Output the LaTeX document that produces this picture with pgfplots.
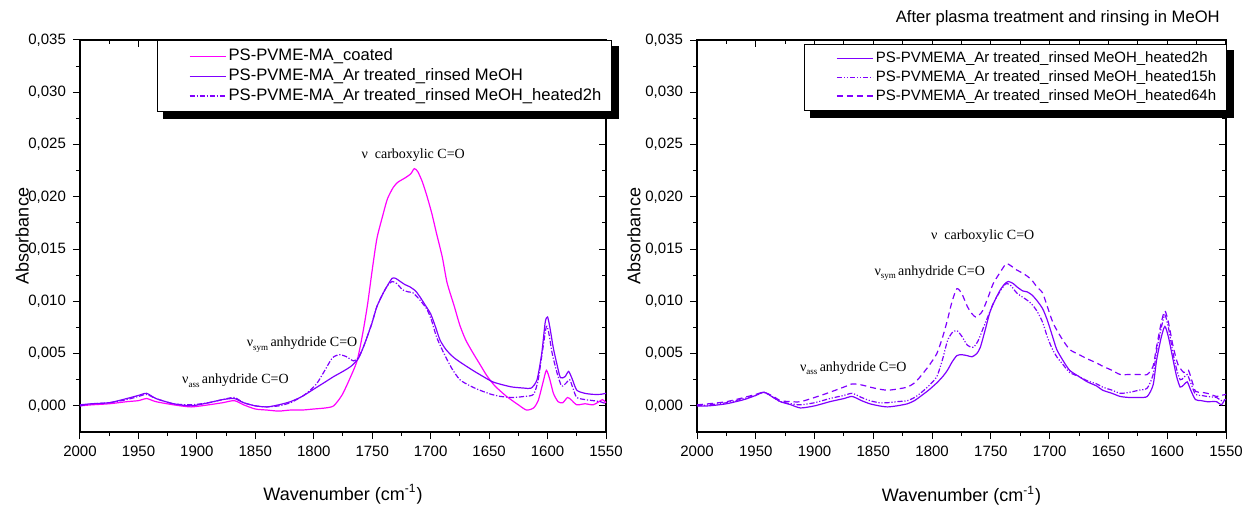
\documentclass[border=0pt]{standalone}
\usepackage{fontspec}
\setmainfont{Liberation Sans}
\newfontfamily\serif{Liberation Serif}
\usepackage{pgfplots}
\pgfplotsset{compat=1.18}
\definecolor{mag}{RGB}{255,0,255}
\definecolor{vio}{RGB}{128,0,255}

\pgfplotstableread{
x y
2000 0.0000
1990 0.0001
1975 0.0002
1960 0.0004
1950 0.0005
1943 0.0007
1935 0.0004
1920 0.0001
1905 -0.0001
1890 0.0001
1878 0.0003
1868 0.0005
1860 0.0001
1850 -0.0003
1840 -0.0004
1830 -0.0005
1820 -0.0004
1810 -0.0004
1800 -0.0003
1790 -0.0002
1783 0.0000
1776 0.0010
1770 0.0024
1763 0.0043
1758 0.0070
1754 0.0097
1750 0.0130
1746 0.0160
1741 0.0182
1737 0.0198
1732 0.0209
1728 0.0214
1722 0.0218
1717 0.0222
1714 0.0227
1711 0.0224
1707 0.0214
1703 0.0200
1699 0.0184
1695 0.0165
1690 0.0142
1686 0.0118
1680 0.0096
1675 0.0077
1670 0.0063
1664 0.0051
1658 0.0040
1652 0.0029
1645 0.0019
1635 0.0009
1625 0.0001
1618 -0.0004
1612 -0.0002
1608 0.0005
1604 0.0022
1601 0.0034
1598 0.0025
1595 0.0012
1591 0.0004
1587 0.0003
1583 0.0008
1580 0.0006
1575 0.0001
1568 0.0002
1561 0.0001
1556 0.0004
1553 0.0006
1550 0.0003
}\coated

\pgfplotstableread{
x y
2000 0.0001
1990 0.0002
1975 0.0003
1960 0.0007
1950 0.0010
1943 0.0012
1935 0.0007
1920 0.0002
1905 0.0000
1890 0.0003
1878 0.0006
1868 0.0007
1860 0.0003
1850 0.0000
1840 -0.0001
1830 0.0001
1820 0.0004
1810 0.0009
1800 0.0016
1790 0.0023
1783 0.0028
1775 0.0033
1768 0.0038
1762 0.0045
1758 0.0055
1754 0.0067
1750 0.0080
1746 0.0095
1741 0.0107
1737 0.0115
1733 0.0122
1730 0.0122
1726 0.0119
1722 0.0116
1718 0.0114
1713 0.0110
1709 0.0104
1705 0.0097
1700 0.0088
1696 0.0076
1692 0.0063
1687 0.0054
1681 0.0047
1675 0.0042
1664 0.0034
1655 0.0028
1647 0.0023
1638 0.0020
1630 0.0018
1620 0.0017
1614 0.0017
1609 0.0025
1605 0.0050
1602 0.0080
1600 0.0085
1598 0.0075
1595 0.0055
1592 0.0040
1589 0.0027
1585 0.0028
1582 0.0033
1579 0.0026
1575 0.0015
1568 0.0012
1561 0.0011
1555 0.0011
1550 0.0012
}\rinsed

\pgfplotstableread{
x y
2000 0.0000
1990 0.0002
1975 0.0003
1960 0.0006
1950 0.0009
1943 0.0011
1935 0.0007
1920 0.0002
1905 0.0001
1890 0.0003
1878 0.0006
1868 0.0008
1860 0.0003
1850 0.0000
1840 -0.0001
1830 0.0000
1820 0.0003
1810 0.0009
1803 0.0015
1797 0.0022
1790 0.0035
1784 0.0046
1778 0.0049
1772 0.0047
1766 0.0043
1762 0.0046
1758 0.0055
1754 0.0067
1750 0.0080
1746 0.0095
1741 0.0107
1737 0.0115
1733 0.0119
1729 0.0117
1724 0.0111
1719 0.0109
1715 0.0108
1709 0.0101
1703 0.0092
1699 0.0081
1695 0.0066
1689 0.0051
1682 0.0036
1675 0.0025
1666 0.0019
1658 0.0015
1648 0.0011
1640 0.0009
1630 0.0008
1620 0.0009
1612 0.0011
1608 0.0025
1604 0.0055
1601 0.0076
1599 0.0070
1596 0.0050
1592 0.0032
1588 0.0019
1584 0.0022
1581 0.0025
1578 0.0016
1575 0.0008
1568 0.0006
1561 0.0005
1555 0.0004
1550 0.0002
}\heatedA

\pgfplotstableread{
x y
2000 0.0000
1990 0.0000
1975 0.0002
1960 0.0006
1950 0.0010
1943 0.0013
1935 0.0008
1929 0.0004
1920 0.0001
1912 -0.0002
1900 0.0000
1887 0.0004
1875 0.0007
1868 0.0009
1860 0.0005
1853 0.0002
1845 0.0000
1838 -0.0001
1830 0.0000
1821 0.0002
1815 0.0005
1810 0.0009
1803 0.0015
1796 0.0022
1791 0.0028
1787 0.0034
1783 0.0042
1779 0.0048
1775 0.0049
1770 0.0048
1766 0.0047
1762 0.0050
1759 0.0056
1755 0.0072
1751 0.0089
1747 0.0100
1742 0.0111
1738 0.0117
1735 0.0119
1731 0.0117
1728 0.0114
1723 0.0110
1719 0.0109
1715 0.0106
1711 0.0101
1706 0.0093
1702 0.0082
1698 0.0068
1694 0.0054
1689 0.0044
1683 0.0034
1675 0.0028
1668 0.0023
1660 0.0019
1655 0.0015
1647 0.0012
1640 0.0009
1632 0.0008
1624 0.0008
1617 0.0009
1612 0.0020
1609 0.0044
1605 0.0066
1602 0.0076
1599 0.0066
1595 0.0044
1592 0.0028
1589 0.0018
1586 0.0020
1583 0.0023
1580 0.0015
1576 0.0006
1571 0.0005
1566 0.0004
1558 0.0004
1554 0.0001
1551 0.0006
1550 0.0006
}\hB

\pgfplotstableread{
x y
2000 0.0000
1990 0.0001
1975 0.0003
1960 0.0007
1950 0.0010
1943 0.0013
1935 0.0008
1929 0.0004
1920 0.0002
1912 0.0001
1900 0.0003
1887 0.0007
1875 0.0010
1868 0.0012
1860 0.0008
1853 0.0005
1845 0.0003
1838 0.0003
1830 0.0004
1821 0.0005
1815 0.0008
1810 0.0012
1803 0.0019
1796 0.0028
1791 0.0045
1787 0.0062
1783 0.0070
1779 0.0072
1775 0.0067
1770 0.0058
1765 0.0056
1761 0.0062
1757 0.0073
1752 0.0087
1748 0.0098
1742 0.0110
1737 0.0117
1733 0.0115
1728 0.0108
1723 0.0104
1719 0.0101
1715 0.0097
1711 0.0091
1706 0.0080
1702 0.0066
1698 0.0055
1694 0.0047
1689 0.0040
1683 0.0032
1675 0.0028
1668 0.0024
1660 0.0021
1655 0.0018
1647 0.0015
1640 0.0012
1632 0.0013
1624 0.0015
1617 0.0017
1612 0.0030
1609 0.0053
1605 0.0075
1602 0.0087
1599 0.0075
1595 0.0050
1592 0.0035
1589 0.0025
1586 0.0027
1583 0.0030
1580 0.0022
1576 0.0011
1571 0.0010
1566 0.0009
1558 0.0008
1554 0.0005
1550 0.0006
}\hC

\pgfplotstableread{
x y
2000 0.0001
1990 0.0002
1975 0.0004
1960 0.0008
1950 0.0011
1943 0.0013
1935 0.0009
1929 0.0005
1920 0.0004
1912 0.0004
1900 0.0008
1887 0.0013
1875 0.0018
1868 0.0021
1860 0.0020
1853 0.0018
1845 0.0016
1838 0.0015
1830 0.0016
1821 0.0018
1815 0.0022
1810 0.0028
1803 0.0038
1796 0.0050
1791 0.0066
1787 0.0082
1783 0.0100
1779 0.0112
1775 0.0108
1770 0.0095
1766 0.0088
1763 0.0085
1760 0.0087
1757 0.0091
1752 0.0105
1748 0.0117
1742 0.0128
1737 0.0136
1733 0.0134
1728 0.0130
1723 0.0127
1719 0.0124
1715 0.0120
1711 0.0114
1706 0.0108
1702 0.0095
1697 0.0079
1690 0.0065
1683 0.0054
1675 0.0049
1668 0.0045
1660 0.0041
1655 0.0038
1647 0.0034
1640 0.0030
1632 0.0030
1624 0.0030
1617 0.0030
1612 0.0038
1609 0.0057
1605 0.0080
1602 0.0091
1599 0.0080
1595 0.0057
1591 0.0040
1586 0.0032
1582 0.0034
1579 0.0024
1576 0.0014
1571 0.0013
1566 0.0012
1558 0.0009
1554 0.0010
1550 0.0011
}\hD

\tikzset{
  ann/.style={font=\serif\fontsize{7}{8}\selectfont, inner sep=0pt},
  ln/.style={line width=0.6pt, smooth, tension=0.4},
  dd/.style={dash pattern=on 2.6pt off 0.9pt on 0.6pt off 0.9pt},
  ddd/.style={dash pattern=on 2.6pt off 0.9pt on 0.6pt off 0.9pt on 0.6pt off 0.9pt},
  dsh/.style={dash pattern=on 3pt off 2pt},
}

\pgfplotsset{
  common/.style={
    scale only axis, height=196pt,
    x dir=reverse, xmin=1550, xmax=2000, ymin=-0.0025, ymax=0.035,
    xtick={1550,1600,1650,1700,1750,1800,1850,1900,1950,2000}, minor x tick num=1,
    ytick={0,0.005,0.01,0.015,0.02,0.025,0.03,0.035}, minor y tick num=1,
    scaled y ticks=false, scaled x ticks=false,
    axis line style={line width=0.6pt},
    every tick/.style={black, line width=0.5pt},
    major tick length=3.5pt, minor tick length=2pt,
    clip=false,
  },
  mainax/.style={
    common,
    tick align=outside, xtick pos=left, ytick pos=left,
    tick label style={font=\fontsize{7.5}{9}\selectfont},
    yticklabel style={/pgf/number format/.cd, fixed, fixed zerofill, precision=3, use comma, assume math mode=true},
    xticklabel style={/pgf/number format/.cd, set thousands separator={}, assume math mode=true},
    label style={font=\fontsize{9}{11}\selectfont},
    xlabel={Wavenumber (cm\textsuperscript{-1})},
    ylabel={Absorbance},
    legend cell align=left,
    legend style={draw=black, line width=0.5pt, font=\fontsize{8.3}{9.5}\selectfont,
      inner xsep=4pt, inner ysep=3pt,
      nodes={inner sep=1.2pt}},
    legend image code/.code={\path (0pt,0pt); \draw[##1] (12pt,0pt) -- (30pt,0pt);},
  },
  overax/.style={
    common, tick align=inside, xtick pos=right, ytick pos=right,
    xticklabels={}, yticklabels={},
  },
}

\begin{document}
\begin{tikzpicture}
\path[use as bounding box] (0,0) rectangle (622.5pt,254pt);

% ---------- left panel ----------
\begin{axis}[overax, at={(40pt,38pt)}, anchor=south west, width=263pt]
\end{axis}
\begin{axis}[mainax, at={(40pt,38pt)}, anchor=south west, width=263pt,
  xlabel style={at={(axis description cs:0.5,-0.158)}, anchor=center},
  ylabel style={at={(axis description cs:-0.110,0.5)}, anchor=center},
  legend style={at={(1.012,1)}, anchor=north east, name=legL}]
\addplot[ln, mag] table[x=x,y=y] {\coated};
\addlegendentry{PS-PVME-MA\_coated}
\addplot[ln, vio] table[x=x,y=y] {\rinsed};
\addlegendentry{PS-PVME-MA\_Ar treated\_rinsed MeOH}
\addplot[ln, vio, dd] table[x=x,y=y] {\heatedA};
\addlegendentry{PS-PVME-MA\_Ar treated\_rinsed MeOH\_heated2h}
\node[ann] at (axis cs:1715,0.0240) {ν\ \ carboxylic C=O};
\node[ann] at (axis cs:1810,0.0059) {ν\raisebox{-0.6ex}{\fontsize{4.5}{5}\selectfont sym}\,anhydride C=O};
\node[ann] at (axis cs:1867,0.0024) {ν\raisebox{-0.6ex}{\fontsize{4.5}{5}\selectfont ass}\,anhydride C=O};
\end{axis}
\fill[black] ([xshift=3pt]legL.south west) rectangle ([xshift=3.5pt,yshift=-3.5pt]legL.south east);
\fill[black] ([yshift=-3pt]legL.north east) rectangle ([xshift=3.5pt]legL.south east);

% ---------- right panel ----------
\begin{axis}[overax, at={(348.5pt,38pt)}, anchor=south west, width=264.5pt]
\end{axis}
\begin{axis}[mainax, at={(348.5pt,38pt)}, anchor=south west, width=264.5pt,
  xlabel style={at={(axis description cs:0.5,-0.163)}, anchor=center},
  ylabel style={at={(axis description cs:-0.119,0.5)}, anchor=center},
  legend style={at={(1.002,0.99)}, anchor=north east, name=legR,
    font=\fontsize{7.5}{9}\selectfont, inner ysep=2.5pt}]
\addplot[ln, vio] table[x=x,y=y] {\hB};
\addlegendentry{PS-PVMEMA\_Ar treated\_rinsed MeOH\_heated2h}
\addplot[ln, vio, ddd] table[x=x,y=y] {\hC};
\addlegendentry{PS-PVMEMA\_Ar treated\_rinsed MeOH\_heated15h}
\addplot[ln, vio, dsh] table[x=x,y=y] {\hD};
\addlegendentry{PS-PVMEMA\_Ar treated\_rinsed MeOH\_heated64h}
\node[ann] at (axis cs:1757,0.0162) {ν\ \ carboxylic C=O};
\node[ann] at (axis cs:1802,0.0127) {ν\raisebox{-0.6ex}{\fontsize{4.5}{5}\selectfont sym}\,anhydride C=O};
\node[ann] at (axis cs:1867,0.0036) {ν\raisebox{-0.6ex}{\fontsize{4.5}{5}\selectfont ass}\,anhydride C=O};
\node[font=\fontsize{8.3}{10}\selectfont, anchor=center] at (axis description cs:0.682,1) [yshift=11pt] {After plasma treatment and rinsing in MeOH};
\end{axis}
\fill[black] ([xshift=3pt]legR.south west) rectangle ([xshift=3.5pt,yshift=-3.5pt]legR.south east);
\fill[black] ([yshift=-3pt]legR.north east) rectangle ([xshift=3.5pt]legR.south east);
\end{tikzpicture}
\end{document}
